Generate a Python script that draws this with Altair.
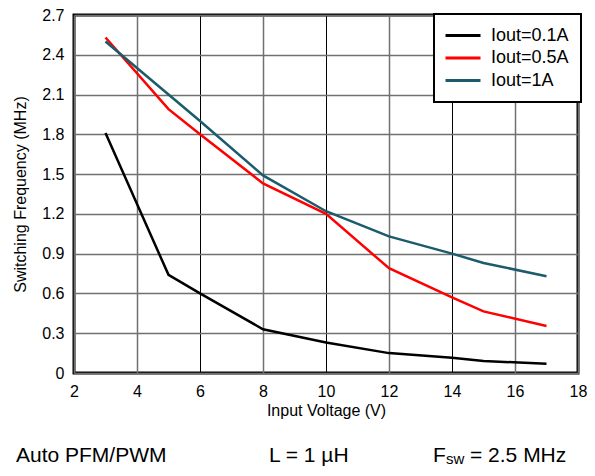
import altair as alt
import pandas as pd

# Data
voltage = [3, 5, 6, 8, 10, 12, 14, 15, 17]
f_01A = [1.81, 0.74, 0.60, 0.33, 0.23, 0.15, 0.115, 0.09, 0.07]
f_05A = [2.53, 1.99, 1.80, 1.43, 1.20, 0.79, 0.57, 0.465, 0.355]
f_1A = [2.50, 2.10, 1.90, 1.49, 1.22, 1.03, 0.90, 0.83, 0.73]
series_names = ["Iout=0.1A", "Iout=0.5A", "Iout=1A"]
series_colors = ["#000000", "#ff0000", "#1a5c6b"]
x_ticks = [2, 4, 6, 8, 10, 12, 14, 16, 18]
y_ticks = [0, 0.3, 0.6, 0.9, 1.2, 1.5, 1.8, 2.1, 2.4, 2.7]

rows = []
for name, vals in zip(series_names, [f_01A, f_05A, f_1A]):
    for v, f in zip(voltage, vals):
        rows.append({"Input Voltage (V)": v, "Frequency": f, "Series": name})
df = pd.DataFrame(rows)

FONT = "Liberation Sans"
dark_test = "datum.value == 6 || datum.value == 10 || datum.value == 14"

W, H = 504, 358
LEFT = 66

lines = alt.Chart(df).mark_line(strokeWidth=2.5).encode(
    x=alt.X(
        "Input Voltage (V):Q",
        scale=alt.Scale(domain=[2, 18], nice=False),
        axis=alt.Axis(
            values=x_ticks,
            title="Input Voltage (V)",
            ticks=False,
            domain=False,
            labelFlush=False,
            labelPadding=10,
            labelFontSize=16,
            titleFontSize=16,
            titleFontWeight="normal",
            titleY=37,
            titleBaseline="middle",
            gridColor={"condition": {"test": dark_test, "value": "#000000"}, "value": "#707070"},
            gridWidth={"condition": {"test": dark_test, "value": 1}, "value": 1.5},
            gridOpacity=1,
        ),
    ),
    y=alt.Y(
        "Frequency:Q",
        scale=alt.Scale(domain=[0, 2.7], nice=False),
        axis=alt.Axis(
            values=y_ticks,
            format=".1~f",
            title="Switching Frequency (MHz)",
            ticks=False,
            domain=False,
            labelFlush=False,
            labelPadding=10,
            labelFontSize=16,
            titleFontSize=16,
            titleFontWeight="normal",
            titleX=20 - (LEFT + 8),
            titleY=H / 2,
            titleAngle=-90,
            titleBaseline="middle",
            titleAlign="center",
            gridColor="#707070",
            gridWidth=1.5,
            gridOpacity=1,
        ),
    ),
    color=alt.Color(
        "Series:N",
        scale=alt.Scale(domain=series_names, range=series_colors),
        legend=alt.Legend(
            title=None,
            orient="none",
            legendX=W - 144,
            legendY=-1,
            symbolType="M-1.25,0H3.125",
            symbolStrokeWidth=3,
            symbolSize=256,
            symbolFillColor="transparent",
            labelFontSize=18,
            labelOffset=26,
            rowPadding=3.5,
            padding=12,
            strokeColor="#000000",
            fillColor="#ffffff",
        ),
    ),
)

cap_y = 447
X0 = LEFT + 8


def cap(text, x, size=21, dy=0):
    return alt.Chart(pd.DataFrame({"t": [text]})).mark_text(
        align="left", baseline="alphabetic", fontSize=size, font=FONT, color="black"
    ).encode(text="t:N", x=alt.value(x - X0), y=alt.value(cap_y + dy))


caption = (
    cap("Auto PFM/PWM", 16)
    + cap("L = 1 µH", 269)
    + cap("F", 433)
    + cap("sw", 446, size=15, dy=2)
    + cap("= 2.5 MHz", 470)
)

chart = (
    alt.layer(lines, caption)
    .properties(
        width=W,
        height=H,
        autosize=alt.AutoSizeParams(type="none"),
        padding={"left": LEFT, "top": 7, "right": 9, "bottom": 94},
    )
    .configure(font=FONT)
    .configure_view(stroke="#000000", strokeWidth=3)
    .configure_axis(labelColor="black", titleColor="black", labelFont=FONT, titleFont=FONT)
    .configure_legend(labelFont=FONT, labelColor="black", strokeWidth=2)
)

chart.save("out.html", embed_options={"renderer": "svg", "actions": False})
